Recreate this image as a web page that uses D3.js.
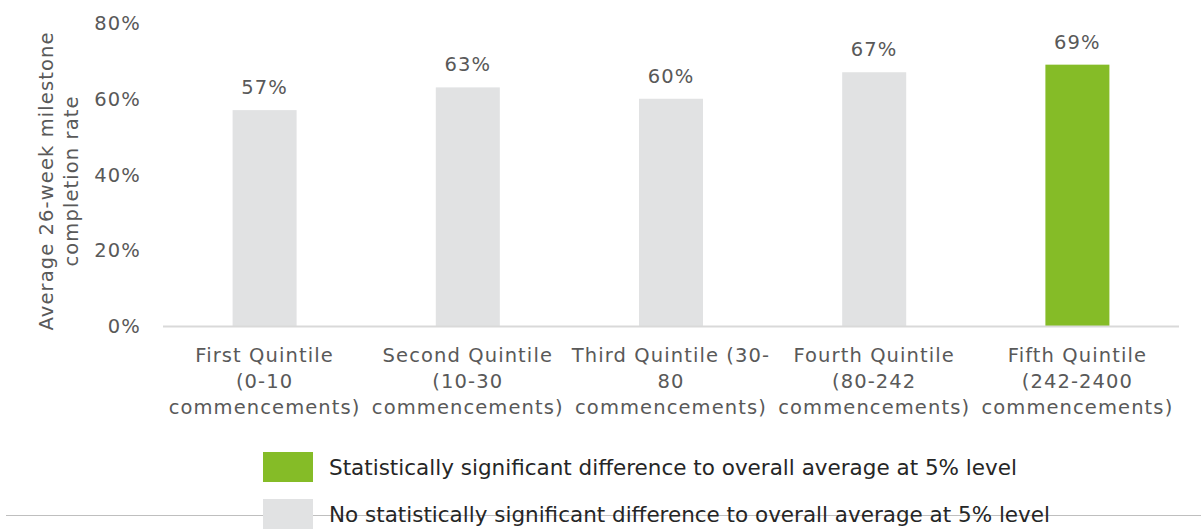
<!DOCTYPE html>
<html>
<head>
<meta charset="utf-8">
<script src="https://cdn.jsdelivr.net/npm/d3@7"></script>
<style>
  body { margin: 0; background: #fff; }
  svg text { font-family: "DejaVu Sans", Verdana, sans-serif; fill: #595959; letter-spacing: 1.1px; }
  svg text.legendText { font-family: "DejaVu Sans Condensed", "Liberation Sans Narrow", sans-serif; fill: #262626; letter-spacing: 0; }
</style>
</head>
<body>
<div id="chart"></div>
<script>
var categories = [
  ["First Quintile", "(0-10", "commencements)"],
  ["Second Quintile", "(10-30", "commencements)"],
  ["Third Quintile (30-", "80", "commencements)"],
  ["Fourth Quintile", "(80-242", "commencements)"],
  ["Fifth Quintile", "(242-2400", "commencements)"]
];
var values = [57, 63, 60, 67, 69];
var significant = [false, false, false, false, true];
var yTicks = [0, 20, 40, 60, 80];
var legendLabels = [
  "Statistically significant difference to overall average at 5% level",
  "No statistically significant difference to overall average at 5% level"
];
var legendWidths = [688, 721];

var width = 1201, height = 530;
var green = "#85bc27", grey = "#e1e2e3";
var fontSize = "19.5px";

var svg = d3.select("#chart").append("svg")
  .attr("width", width)
  .attr("height", height);

var x = d3.scaleBand()
  .domain(d3.range(categories.length))
  .range([163, 1179])
  .paddingInner(0.685)
  .paddingOuter(0.3425);

var y = d3.scaleLinear()
  .domain([0, 80])
  .range([326, 23]);

// y tick labels
svg.selectAll(".yTick")
  .data(yTicks)
  .enter().append("text")
  .attr("class", "yTick")
  .attr("x", 141)
  .attr("y", d => y(d))
  .attr("dy", "0.36em")
  .attr("text-anchor", "end")
  .style("font-size", fontSize)
  .text(d => d + "%");

// y axis title
var titleG = svg.append("g")
  .attr("transform", "translate(59,181) rotate(-90)");
titleG.append("text")
  .attr("x", 0).attr("y", -6)
  .attr("text-anchor", "middle")
  .style("font-size", fontSize)
  .text("Average 26-week milestone");
titleG.append("text")
  .attr("x", 0).attr("y", 19)
  .attr("text-anchor", "middle")
  .style("font-size", fontSize)
  .text("completion rate");

// bars
svg.selectAll(".bar")
  .data(values)
  .enter().append("rect")
  .attr("class", "bar")
  .attr("x", (d, i) => x(i))
  .attr("y", d => y(d))
  .attr("width", x.bandwidth())
  .attr("height", d => y(0) - y(d))
  .attr("fill", (d, i) => significant[i] ? green : grey);

// baseline
svg.append("line")
  .attr("x1", 163).attr("x2", 1179)
  .attr("y1", y(0) + 0.5).attr("y2", y(0) + 0.5)
  .attr("stroke", "#d9d9d9")
  .attr("stroke-width", 2);

// value labels
svg.selectAll(".valLabel")
  .data(values)
  .enter().append("text")
  .attr("class", "valLabel")
  .attr("x", (d, i) => x(i) + x.bandwidth() / 2)
  .attr("y", d => y(d) - 16)
  .attr("text-anchor", "middle")
  .style("font-size", fontSize)
  .text(d => d + "%");

// category labels
categories.forEach((lines, i) => {
  var cx = x(i) + x.bandwidth() / 2;
  var t = svg.append("text")
    .attr("x", cx)
    .attr("y", 362)
    .attr("text-anchor", "middle")
    .style("font-size", fontSize);
  lines.forEach((ln, j) => {
    t.append("tspan")
      .attr("x", cx)
      .attr("y", 362 + j * 26)
      .text(ln);
  });
});

// stray separator line behind legend
svg.append("line")
  .attr("x1", 6).attr("x2", 1201)
  .attr("y1", 515.5).attr("y2", 515.5)
  .attr("stroke", "#bfbfbf")
  .attr("stroke-width", 1);

// legend
var legend = svg.selectAll(".legendItem")
  .data(legendLabels)
  .enter().append("g")
  .attr("class", "legendItem")
  .attr("transform", (d, i) => `translate(263, ${452 + i * 47})`);

legend.append("rect")
  .attr("width", 50)
  .attr("height", 30)
  .attr("fill", (d, i) => i == 0 ? green : grey);

legend.append("text")
  .attr("class", "legendText")
  .attr("x", 66)
  .attr("y", 23)
  .attr("textLength", (d, i) => legendWidths[i])
  .attr("lengthAdjust", "spacingAndGlyphs")
  .style("font-size", "21px")
  .text(d => d);
</script>
</body>
</html>
